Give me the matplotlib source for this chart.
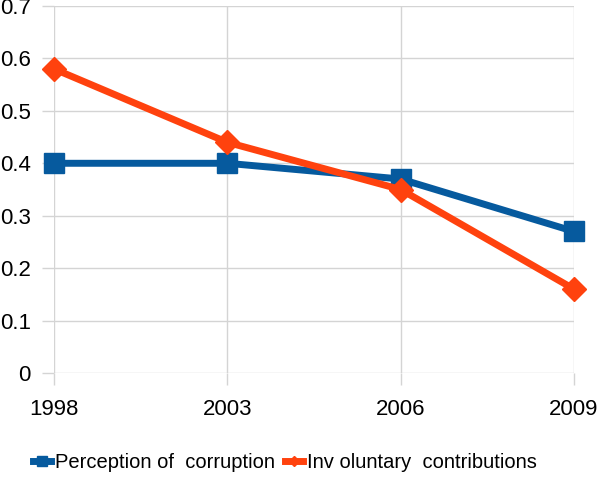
import matplotlib.pyplot as plt

years = ['1998', '2003', '2006', '2009']
perception = [0.40, 0.40, 0.37, 0.27]
involuntary = [0.58, 0.44, 0.35, 0.16]
y_ticks = [0, 0.1, 0.2, 0.3, 0.4, 0.5, 0.6, 0.7]

blue = '#065a9e'
orange = '#ff420e'
grid_col = '#d4d4d4'

plt.rcParams['font.family'] = ['Liberation Sans', 'DejaVu Sans']

fig = plt.figure(figsize=(6, 5.03), dpi=100)
ax = fig.add_axes([54 / 600, 1 - 373 / 503, 520 / 600, 367 / 503])

x = list(range(len(years)))
ax.plot(x, perception, color=blue, lw=5, marker='s', ms=15,
        label='Perception of  corruption', clip_on=False, zorder=3)
ax.plot(x, involuntary, color=orange, lw=5, marker='D', ms=12,
        label='Inv oluntary  contributions', clip_on=False, zorder=4)

ax.set_xlim(0, 3)
ax.set_ylim(0, 0.7)
ax.set_xticks(x)
ax.set_xticklabels(years)
ax.set_yticks(y_ticks)
ax.set_yticklabels(['0' if v == 0 else f'{v:.1f}' for v in y_ticks])
ax.grid(True, color=grid_col, lw=1)
ax.set_axisbelow(True)
for s in ax.spines.values():
    s.set_visible(False)
ax.tick_params(axis='both', colors=grid_col, length=8.6, width=1,
               labelcolor='black', labelsize=16)
ax.tick_params(axis='y', pad=8)
ax.tick_params(axis='x', pad=10)

ax.legend(loc='center', bbox_to_anchor=(285 / 600, 1 - 463 / 503),
          bbox_transform=fig.transFigure, ncol=2, frameon=False,
          fontsize=14.5, handlelength=0.9, handletextpad=0.2,
          columnspacing=0.5, markerscale=0.45)

fig.savefig('out.png', dpi=100)
